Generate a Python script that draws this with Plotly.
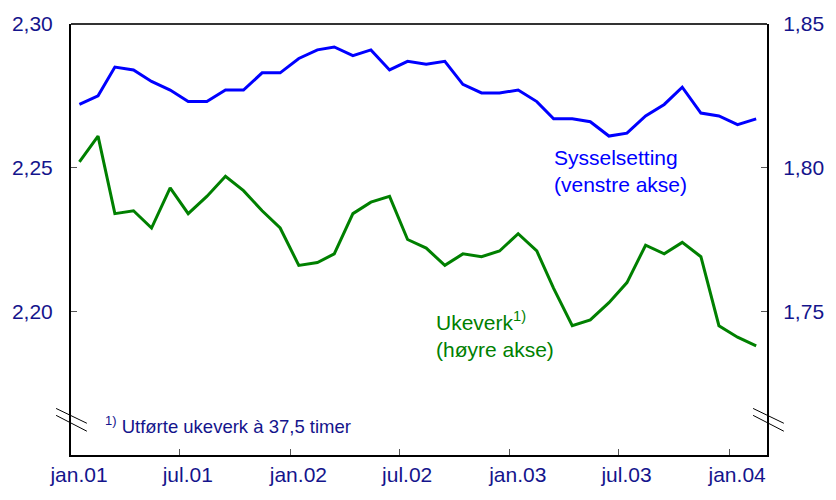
import pandas as pd
import plotly.graph_objects as go

# monthly observations, mid-month, jan.01 - feb.04
months = pd.date_range("2001-01-01", periods=38, freq="MS") + pd.Timedelta(days=14)

sysselsetting = [
    2.272, 2.275, 2.285, 2.284, 2.280, 2.277, 2.273, 2.273, 2.277, 2.277,
    2.283, 2.283, 2.288, 2.291, 2.292, 2.289, 2.291, 2.284, 2.287, 2.286,
    2.287, 2.279, 2.276, 2.276, 2.277, 2.273, 2.267, 2.267, 2.266, 2.261,
    2.262, 2.268, 2.272, 2.278, 2.269, 2.268, 2.265, 2.267,
]
ukeverk = [
    1.802, 1.811, 1.784, 1.785, 1.779, 1.793, 1.784, 1.790, 1.797, 1.792,
    1.785, 1.779, 1.766, 1.767, 1.770, 1.784, 1.788, 1.790, 1.775, 1.772,
    1.766, 1.770, 1.769, 1.771, 1.777, 1.771, 1.758, 1.745, 1.747, 1.753,
    1.760, 1.773, 1.770, 1.774, 1.769, 1.745, 1.741, 1.738,
]

tick_dates = ["2001-01-01", "2001-07-01", "2002-01-01", "2002-07-01",
              "2003-01-01", "2003-07-01", "2004-01-01"]
tick_labels = ["jan.01", "jul.01", "jan.02", "jul.02", "jan.03", "jul.03", "jan.04"]
left_ticks = [2.20, 2.25, 2.30]
right_ticks = [1.75, 1.80, 1.85]

NAVY = "#14148c"
FONT = "Liberation Sans, Arial, sans-serif"

fig = go.Figure()
fig.add_trace(go.Scatter(x=months, y=sysselsetting, mode="lines",
                         line=dict(color="#0000ff", width=3), yaxis="y"))
fig.add_trace(go.Scatter(x=months, y=ukeverk, mode="lines",
                         line=dict(color="#008000", width=3), yaxis="y2"))

fig.update_layout(
    width=836, height=500,
    margin=dict(l=70, r=64, t=20, b=45),
    plot_bgcolor="white", paper_bgcolor="white",
    showlegend=False,
    font=dict(family=FONT, size=21, color=NAVY),
    xaxis=dict(
        type="date", range=["2001-01-01", "2004-03-04"],
        tickvals=tick_dates, ticktext=tick_labels,
        ticks="inside", ticklen=6, tickcolor="#555555",
        ticklabelshift=8, ticklabelstandoff=0,
        showline=True, linecolor="black", linewidth=2,
        showgrid=False, zeroline=False,
    ),
    yaxis=dict(
        range=[2.15, 2.30], tickvals=left_ticks,
        ticktext=[f"{v:.2f}".replace(".", ",") for v in left_ticks],
        ticks="inside", ticklen=6, tickcolor="#555555",
        ticklabelstandoff=12,
        showline=True, linecolor="black", linewidth=2,
        showgrid=False, zeroline=False,
    ),
    yaxis2=dict(
        range=[1.70, 1.85], overlaying="y", side="right",
        tickvals=right_ticks,
        ticktext=[f"{v:.2f}".replace(".", ",") for v in right_ticks],
        ticks="inside", ticklen=6, tickcolor="#555555",
        ticklabelstandoff=10,
        showline=True, linecolor="black", linewidth=2,
        showgrid=False, zeroline=False,
    ),
)

# top frame line
fig.add_shape(type="line", xref="paper", yref="paper", x0=0, x1=1, y0=1, y1=1,
              line=dict(color="#333333", width=2))

# axis break marks
for x0, x1 in [(-0.0214, 0.0228), (0.980, 1.0242)]:
    for y0, y1 in [(0.108, 0.0736), (0.092, 0.0552)]:
        fig.add_shape(type="line", xref="paper", yref="paper",
                      x0=x0, x1=x1, y0=y0, y1=y1,
                      line=dict(color="black", width=1))

fig.add_annotation(xref="paper", yref="paper", x=0.691, y=0.66,
                   xanchor="left", yanchor="middle", align="left", showarrow=False,
                   text="Sysselsetting<br>(venstre akse)",
                   font=dict(color="#0000ff", size=21))
fig.add_annotation(xref="paper", yref="paper", x=0.521, y=0.28,
                   xanchor="left", yanchor="middle", align="left", showarrow=False,
                   text="Ukeverk<sup>1)</sup><br>(høyre akse)",
                   font=dict(color="#008000", size=21))
fig.add_annotation(xref="paper", yref="paper", x=0.0456, y=0.069,
                   xanchor="left", yanchor="middle", align="left", showarrow=False,
                   text="<sup>1)</sup> Utførte ukeverk à 37,5 timer",
                   font=dict(color=NAVY, size=18.5))

# remove the default page margin so the figure fills the window
fig.write_html("out.html", config={"displayModeBar": False},
               post_script="document.body.style.margin='0';")
